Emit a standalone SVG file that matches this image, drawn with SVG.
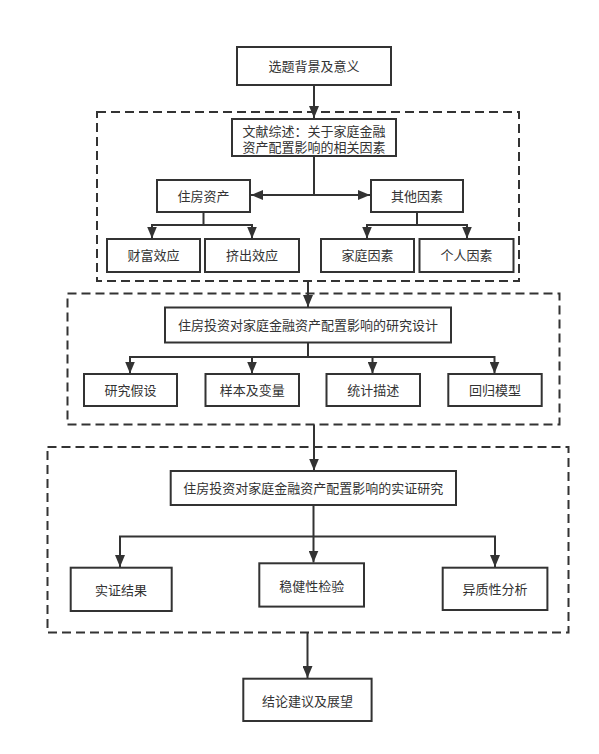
<svg xmlns="http://www.w3.org/2000/svg" width="599" height="754" viewBox="0 0 599 754">
<style>
.bg{fill:#ffffff}
.box{fill:#ffffff;stroke:#333333;stroke-width:2}
.grp{fill:none;stroke:#333333;stroke-width:2;stroke-dasharray:9 5}
.ln{fill:none;stroke:#333333;stroke-width:2}
.arr{marker-end:url(#ah)}
text{font-family:"Noto Sans CJK SC","Noto Sans",sans-serif;font-size:13px;fill:#333333;text-anchor:middle}
</style>
<defs>
<marker id="ah" viewBox="0 0 12 10" refX="12" refY="5" markerWidth="12" markerHeight="10" markerUnits="userSpaceOnUse" orient="auto">
<path d="M0,0 L12,5 L0,10 Z" fill="#333333"/>
</marker>
</defs>
<rect class="bg" x="0" y="0" width="599" height="754"/>

<g id="groups">
<rect id="grp-literature" class="grp" x="97" y="112" width="422" height="169"/>
<rect id="grp-design" class="grp" x="67.5" y="293.5" width="492" height="131"/>
<rect id="grp-empirical" class="grp" x="47.5" y="447" width="521" height="185.5"/>
</g>

<g id="connectors">
<line class="ln arr" x1="314" y1="85" x2="314" y2="118"/>
<polyline class="ln" points="314,156 314,195"/>
<line class="ln arr" x1="314" y1="195" x2="251" y2="195"/>
<line class="ln arr" x1="314" y1="195" x2="370" y2="195"/>
<polyline class="ln" points="203.5,212 203.5,225"/>
<line class="ln" x1="152" y1="225" x2="252" y2="225"/>
<line class="ln arr" x1="152" y1="224" x2="152" y2="238.5"/>
<line class="ln arr" x1="252" y1="224" x2="252" y2="238.5"/>
<polyline class="ln" points="417,212 417,225"/>
<line class="ln" x1="367" y1="225" x2="467" y2="225"/>
<line class="ln arr" x1="367" y1="224" x2="367" y2="238.5"/>
<line class="ln arr" x1="467" y1="224" x2="467" y2="238.5"/>

<line class="ln arr" x1="308" y1="281" x2="308" y2="307"/>
<polyline class="ln" points="308,342.5 308,357"/>
<line class="ln" x1="130" y1="357" x2="494.5" y2="357"/>
<line class="ln arr" x1="130" y1="356" x2="130" y2="373.5"/>
<line class="ln arr" x1="252" y1="356" x2="252" y2="373.5"/>
<line class="ln arr" x1="372.5" y1="356" x2="372.5" y2="373.5"/>
<line class="ln arr" x1="494.5" y1="356" x2="494.5" y2="373.5"/>

<line class="ln arr" x1="314" y1="424.5" x2="314" y2="470.5"/>
<line class="ln arr" x1="313.5" y1="505" x2="313.5" y2="562.5"/>
<polyline class="ln" points="120,567 120,536.5 495,536.5 495,567"/>
<line class="ln arr" x1="120" y1="540" x2="120" y2="567"/>
<line class="ln arr" x1="495" y1="540" x2="495" y2="567"/>

<line class="ln arr" x1="307.5" y1="632.5" x2="307.5" y2="678"/>
</g>

<g id="n-background"><rect class="box" x="237" y="47" width="154" height="38"/><text x="314" y="70.5">选题背景及意义</text></g>
<g id="n-literature"><rect class="box" x="232" y="119" width="164" height="37"/><text x="314" y="135.5">文献综述：关于家庭金融</text><text x="314" y="152">资产配置影响的相关因素</text></g>
<g id="n-housing"><rect class="box" x="157" y="180" width="93" height="32"/><text x="203.5" y="200.5">住房资产</text></g>
<g id="n-other"><rect class="box" x="371" y="180" width="92" height="32"/><text x="417" y="200.5">其他因素</text></g>
<g id="n-wealth"><rect class="box" x="107" y="239" width="93" height="33"/><text x="153.5" y="260">财富效应</text></g>
<g id="n-crowd"><rect class="box" x="205" y="239" width="94" height="33"/><text x="252" y="260">挤出效应</text></g>
<g id="n-family"><rect class="box" x="321" y="239" width="93" height="33"/><text x="367.5" y="260">家庭因素</text></g>
<g id="n-personal"><rect class="box" x="419.5" y="239" width="94" height="33"/><text x="466.5" y="260">个人因素</text></g>

<g id="n-design"><rect class="box" x="165" y="307.5" width="286" height="35"/><text x="308" y="329.5">住房投资对家庭金融资产配置影响的研究设计</text></g>
<g id="n-hypo"><rect class="box" x="84" y="374" width="93" height="32"/><text x="130.5" y="394.5">研究假设</text></g>
<g id="n-sample"><rect class="box" x="205.5" y="374" width="93.5" height="32"/><text x="252.3" y="394.5">样本及变量</text></g>
<g id="n-stats"><rect class="box" x="326.5" y="374" width="93.5" height="32"/><text x="373.3" y="394.5">统计描述</text></g>
<g id="n-model"><rect class="box" x="448.3" y="374" width="93.4" height="32"/><text x="495" y="394.5">回归模型</text></g>

<g id="n-empirical"><rect class="box" x="170.7" y="471" width="285.3" height="34"/><text x="313.3" y="492.5">住房投资对家庭金融资产配置影响的实证研究</text></g>
<g id="n-results"><rect class="box" x="70.7" y="567.7" width="101" height="43.3"/><text x="121" y="595">实证结果</text></g>
<g id="n-robust"><rect class="box" x="259.3" y="563.3" width="104.7" height="43.3"/><text x="311.7" y="591">稳健性检验</text></g>
<g id="n-hetero"><rect class="box" x="442.7" y="567.7" width="104.7" height="42.3"/><text x="495" y="594">异质性分析</text></g>

<g id="n-conclusion"><rect class="box" x="243.3" y="678.7" width="128.3" height="42.3"/><text x="307.5" y="706">结论建议及展望</text></g>
</svg>
